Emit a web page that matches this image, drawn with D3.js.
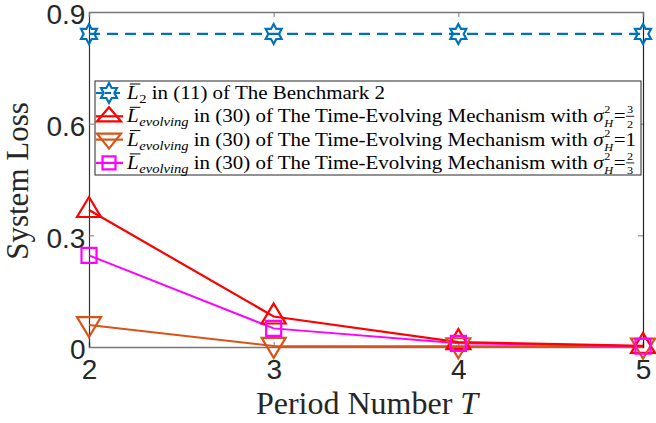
<!DOCTYPE html>
<html><head><meta charset="utf-8">
<script src="https://cdn.jsdelivr.net/npm/d3@7"></script>
<style>body{margin:0;background:#fff}svg{display:block}</style>
</head><body>
<svg id="c" width="656" height="423"></svg>
<script>
const periods = [2, 3, 4, 5];
const benchmark = [0.841, 0.841, 0.841, 0.841];
const evolving32 = [0.368, 0.082, 0.013, 0.003];
const evolving1 = [0.059, 0.003, 0.002, 0.001];
const evolving23 = [0.246, 0.050, 0.010, 0.002];
const yTicks = [0, 0.3, 0.6, 0.9];
const yTickLabels = ["0", "0.3", "0.6", "0.9"];
const xTickLabels = ["2", "3", "4", "5"];

const svg = d3.select("#c");
const L = 89, R = 643, T = 12, B = 347;
const x = d3.scaleLinear().domain([2, 5]).range([L, R]);
const y = d3.scaleLinear().domain([0, 0.9]).range([B, T]);

const axCol = "#262626";
svg.append("g").attr("transform", `translate(0,${B})`)
  .call(d3.axisBottom(x).tickValues(periods).tickSize(-5).tickFormat((d,i)=>xTickLabels[i]))
  .call(g=>{g.select(".domain").attr("stroke","#777").attr("stroke-width",1.5);
    g.selectAll(".tick line").attr("stroke","#777");
    g.selectAll("text").attr("fill",axCol).attr("font-family","Liberation Sans, Arial").attr("font-size",28).attr("dy","1.05em");});
svg.append("g").attr("transform", `translate(${L},0)`)
  .call(d3.axisLeft(y).tickValues(yTicks).tickSize(-5).tickFormat((d,i)=>yTickLabels[i]))
  .call(g=>{g.select(".domain").attr("stroke","#333").attr("stroke-width",1.2);
    g.selectAll(".tick line").attr("stroke","#777");
    g.selectAll("text").attr("fill",axCol).attr("font-family","Liberation Sans, Arial").attr("font-size",28).attr("dx","-0.02em").attr("dy","0.42em");});
svg.append("g").attr("transform", `translate(${R},0)`)
  .call(d3.axisRight(y).tickValues(yTicks).tickSize(-5).tickFormat(""))
  .call(g=>{g.select(".domain").attr("stroke","#222").attr("stroke-width",1.2);g.selectAll(".tick line").attr("stroke","#777");});
svg.append("g").attr("transform", `translate(0,${T})`)
  .call(d3.axisTop(x).tickValues(periods).tickSize(-5).tickFormat(""))
  .call(g=>{g.select(".domain").attr("stroke","#777").attr("stroke-width",1.5);g.selectAll(".tick line").attr("stroke","#777");});

function hexagram(s){
  const r = s*0.58;
  let p=[];
  for(let i=0;i<12;i++){const a=-Math.PI/2+i*Math.PI/6;const rr=i%2===0?s:r;p.push([rr*0.92*Math.cos(a),rr*Math.sin(a)]);}
  return "M"+p.map(q=>q.join(",")).join("L")+"Z";
}
function triUp(w,h1,h2){return `M0,${-h1}L${w},${h2}L${-w},${h2}Z`;}
function triDown(w,h1,h2){return `M0,${h1}L${w},${-h2}L${-w},${-h2}Z`;}
function square(s){return `M${-s},${-s}H${s}V${s}H${-s}Z`;}

const series = [
  {v: benchmark, color:"#0072BD", dash:"11,7", sym:hexagram(10), lsym:hexagram(10), sw:2.2},
  {v: evolving1, color:"#D95319", dash:null, sym:triDown(12,12,8), lsym:triDown(12,9,6), sw:2},
  {v: evolving23, color:"#FF00FF", dash:null, sym:square(7.5), lsym:square(6.5), sw:2},
  {v: evolving32, color:"#FF0000", dash:null, sym:triUp(12,13,7), lsym:triUp(12,9,5), sw:2.2},
];
const line = d3.line().x((d,i)=>x(periods[i])).y(d=>y(d));
series.forEach(s=>{
  svg.append("path").datum(s.v).attr("d",line).attr("fill","none").attr("stroke",s.color)
    .attr("stroke-width",s.sw).attr("stroke-dasharray",s.dash);
});
[series[0], series[3], series[1], series[2]].forEach(s=>{
  svg.append("g").selectAll("path").data(s.v).join("path")
    .attr("transform",(d,i)=>`translate(${x(periods[i])},${y(d)})`)
    .attr("d",s.sym).attr("fill","none").attr("stroke",s.color).attr("stroke-width",2.2);
});

const serif = "Liberation Serif, DejaVu Serif, serif";
svg.append("text").attr("x",367).attr("y",414).attr("text-anchor","middle")
  .attr("font-family",serif).attr("font-size",32).attr("fill",axCol)
  .html('Period Number <tspan font-style="italic">T</tspan>');
svg.append("text").attr("transform","translate(28,181) rotate(-90)").attr("text-anchor","middle")
  .attr("font-family",serif).attr("font-size",31).attr("fill",axCol)
  .text("System Loss");

// legend
const lg = svg.append("g");
const lx = 95, ly = 81, lw = 546, lh = 94;
lg.append("rect").attr("x",lx).attr("y",ly).attr("width",lw).attr("height",lh).attr("fill","#fff").attr("stroke","#262626").attr("stroke-width",1);
const fs = 18, ssz = 12.5, tsz = 10.5;
const rows = [
  {s:series[0], sub:"2", txt:" in (11) of The Benchmark 2", frac:null},
  {s:series[3], sub:"evolving", txt:" in (30) of The Time-Evolving Mechanism with ", frac:["3","2"]},
  {s:series[1], sub:"evolving", txt:" in (30) of The Time-Evolving Mechanism with ", frac:"1"},
  {s:series[2], sub:"evolving", txt:" in (30) of The Time-Evolving Mechanism with ", frac:["2","3"]},
];
const groups = [];
let maxW = 0;
rows.forEach((r,i)=>{
  const cy = ly + 12 + i*23.3;
  lg.append("line").attr("x1",lx+1).attr("x2",lx+28).attr("y1",cy).attr("y2",cy)
    .attr("stroke",r.s.color).attr("stroke-width",2.2).attr("stroke-dasharray",r.s.dash?"6,3":null);
  lg.append("path").attr("transform",`translate(${lx+14},${cy})`).attr("d",r.s.lsym).attr("fill","none").attr("stroke",r.s.color).attr("stroke-width",2.2);
  const g = lg.append("g");
  groups.push({g, cy});
  let cx = 0;
  const base = 0;
  const tL = g.append("text").attr("x",cx).attr("y",base).attr("font-family",serif).attr("font-size",fs).attr("font-style","italic").attr("fill","#000").text("L");
  const wL = tL.node().getComputedTextLength();
  g.append("line").attr("x1",cx+2.5).attr("x2",cx+wL+1.5).attr("y1",base-15).attr("y2",base-15).attr("stroke","#000").attr("stroke-width",1);
  cx += wL + 0.5;
  const tS = g.append("text").attr("x",cx).attr("y",base+4).attr("font-family",serif).attr("font-size",ssz).attr("font-style", r.sub==="2"?"normal":"italic").attr("fill","#000").text(r.sub);
  cx += tS.node().getComputedTextLength();
  const tT = g.append("text").attr("x",cx).attr("y",base).attr("font-family",serif).attr("font-size",fs).attr("fill","#000").style("white-space","pre").text(r.txt);
  cx += tT.node().getComputedTextLength();
  if(r.frac){
    const tg = g.append("text").attr("x",cx).attr("y",base).attr("font-family",serif).attr("font-size",fs).attr("font-style","italic").attr("fill","#000").text("σ");
    cx += tg.node().getComputedTextLength();
    g.append("text").attr("x",cx+0.5).attr("y",base-9).attr("font-family",serif).attr("font-size",tsz).attr("fill","#000").text("2");
    const tH = g.append("text").attr("x",cx+0.5).attr("y",base+5).attr("font-family",serif).attr("font-size",tsz).attr("font-style","italic").attr("fill","#000").text("H");
    cx += tH.node().getComputedTextLength()+1;
    const tE = g.append("text").attr("x",cx).attr("y",base).attr("font-family",serif).attr("font-size",fs).attr("fill","#000").text("=");
    cx += tE.node().getComputedTextLength();
    if(Array.isArray(r.frac)){
      g.append("text").attr("x",cx+3.8).attr("y",base-9).attr("text-anchor","middle").attr("font-family",serif).attr("font-size",tsz).attr("fill","#000").text(r.frac[0]);
      g.append("line").attr("x1",cx+0.5).attr("x2",cx+7.5).attr("y1",base-6).attr("y2",base-6).attr("stroke","#000").attr("stroke-width",0.8);
      g.append("text").attr("x",cx+3.8).attr("y",base+5.5).attr("text-anchor","middle").attr("font-family",serif).attr("font-size",tsz).attr("fill","#000").text(r.frac[1]);
      cx += 8;
    } else {
      const t1 = g.append("text").attr("x",cx).attr("y",base).attr("font-family",serif).attr("font-size",fs).attr("fill","#000").text(r.frac);
      cx += t1.node().getComputedTextLength();
    }
  }
  maxW = Math.max(maxW, cx);
});
const k = (636 - 127) / maxW;
groups.forEach(({g, cy})=>g.attr("transform",`translate(127,${cy+6}) scale(${k},1)`));
</script>
</body></html>
